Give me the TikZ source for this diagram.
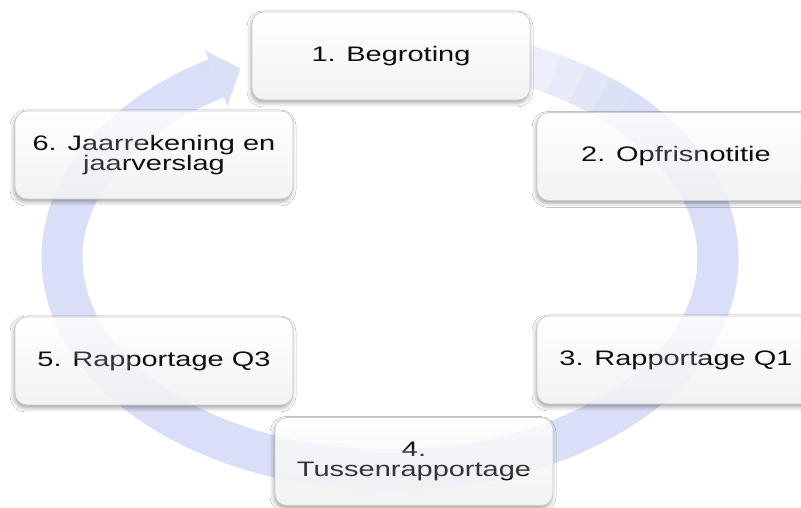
\documentclass[tikz,border=0pt]{standalone}
\usepackage{fontspec}
\setmainfont{Liberation Sans}
\newfontfamily\boxfont[FakeStretch=1.38]{Liberation Sans}
\usetikzlibrary{shadows.blur}
\definecolor{ringblue}{RGB}{216,223,246}
\definecolor{boxtext}{RGB}{15,15,15}
\definecolor{boxedge}{RGB}{205,205,210}
\begin{document}
\begin{tikzpicture}[x=1pt,y=1pt,
  stepbox/.style={rectangle, rounded corners=12pt, minimum width=278pt, minimum height=88pt,
    inner sep=0pt, draw=boxedge, line width=0.8pt, top color=white, bottom color=black!5,
    text=boxtext, font=\boxfont\fontsize{21}{20.5}\selectfont, align=center,
    blur shadow={shadow xshift=-1pt, shadow yshift=-3pt, shadow blur radius=4pt, shadow opacity=35}},
  ring/.style={line width=41pt, draw=ringblue, line cap=butt},
  ringhead/.style={fill=ringblue}]
\useasboundingbox (0,0) rectangle (801,508);
\fill[white] (0,0) rectangle (801,508);
\def\cx{390}\def\cy{250}\def\rx{328}\def\ry{212}
% circular arrow
\draw[ring] ({\cx+\rx*cos(45)},{\cy+\ry*sin(45)}) arc[start angle=45, end angle=-238, x radius=\rx, y radius=\ry];
\foreach \a/\o in {75/0.15,70/0.3,65/0.45,60/0.6,55/0.75,50/0.9}
  \draw[ring, draw opacity=\o] ({\cx+\rx*cos(\a)},{\cy+\ry*sin(\a)}) arc[start angle=\a, end angle=\a-5, x radius=\rx, y radius=\ry];
\coordinate (hl) at (204.9,457.6);
\coordinate (hr) at (227.5,402.0);
\coordinate (ht) at (240.3,439.6);
\fill[ringhead] (hl) -- (ht) -- (hr) -- cycle;
% faint ring seen through the boxes (drawn beneath semi-transparent boxes)
\node[stepbox] (b1) at (391,452) {1. Begroting};
\node[stepbox] (b2) at (676,351.5) {2. Opfrisnotitie};
\node[stepbox] (b3) at (676,148) {3. Rapportage Q1};
\node[stepbox] (b4) at (414,46.5) {4.\\Tussenrapportage};
\node[stepbox] (b5) at (154,147) {5. Rapportage Q3};
\node[stepbox] (b6) at (154,353) {6. Jaarrekening en\\jaarverslag};
\begin{scope}
  \clip[rounded corners=12pt] (b1.south west) rectangle (b1.north east)
    (b2.south west) rectangle (b2.north east) (b3.south west) rectangle (b3.north east)
    (b4.south west) rectangle (b4.north east) (b5.south west) rectangle (b5.north east)
    (b6.south west) rectangle (b6.north east);
  \draw[ring, draw opacity=0.18] ({\cx+\rx*cos(50)},{\cy+\ry*sin(50)}) arc[start angle=50, end angle=-238, x radius=\rx, y radius=\ry];
\end{scope}
\end{tikzpicture}
\end{document}
